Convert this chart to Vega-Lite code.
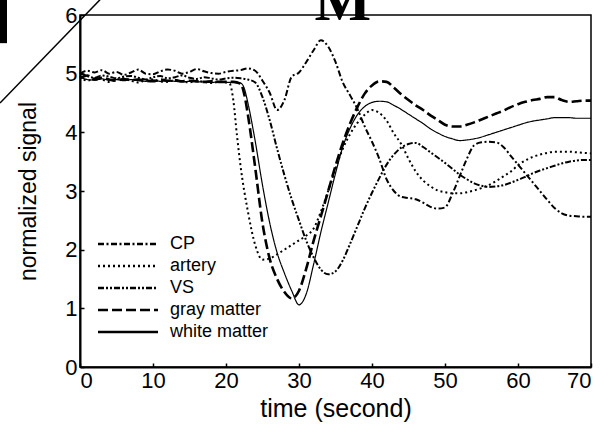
{
  "$schema": "https://vega.github.io/schema/vega-lite/v6.json",
  "width": 511,
  "height": 352,
  "autosize": "none",
  "padding": {"left": 80, "top": 15, "right": 14, "bottom": 63},
  "background": "white",
  "config": {
    "view": {"stroke": "black", "strokeWidth": 1.5},
    "font": "Liberation Sans",
    "axis": {
      "domainColor": "black", "domainWidth": 2, "tickColor": "black", "tickWidth": 1.5, "tickSize": -4,
      "grid": false, "labelColor": "black", "labelFont": "Liberation Sans", "labelFontSize": 22,
      "titleColor": "black", "titleFont": "Liberation Sans", "titleFontSize": 23, "titleFontWeight": "normal",
      "labelOverlap": false
    }
  },
  "layer": [
    {
      "data": {"values": [
        {"t": 0, "CP": 5.0, "artery": 4.96, "VS": 5.02, "gray matter": 4.92, "white matter": 4.94},
        {"t": 1, "CP": 5.05, "artery": 4.88, "VS": 4.96, "gray matter": 4.97, "white matter": 4.9},
        {"t": 2, "CP": 5.02, "artery": 4.92, "VS": 4.93, "gray matter": 4.9, "white matter": 4.89},
        {"t": 3, "CP": 5.06, "artery": 4.9, "VS": 4.97, "gray matter": 4.93, "white matter": 4.91},
        {"t": 4, "CP": 5.0, "artery": 4.86, "VS": 4.95, "gray matter": 4.9, "white matter": 4.89},
        {"t": 5, "CP": 5.03, "artery": 4.9, "VS": 4.92, "gray matter": 4.88, "white matter": 4.9},
        {"t": 6, "CP": 4.98, "artery": 4.92, "VS": 4.95, "gray matter": 4.91, "white matter": 4.88},
        {"t": 7, "CP": 5.02, "artery": 4.88, "VS": 4.96, "gray matter": 4.89, "white matter": 4.9},
        {"t": 8, "CP": 5.07, "artery": 4.85, "VS": 4.93, "gray matter": 4.9, "white matter": 4.88},
        {"t": 9, "CP": 5.0, "artery": 4.89, "VS": 4.9, "gray matter": 4.88, "white matter": 4.87},
        {"t": 10, "CP": 4.99, "artery": 4.9, "VS": 4.94, "gray matter": 4.87, "white matter": 4.89},
        {"t": 11, "CP": 5.04, "artery": 4.87, "VS": 4.96, "gray matter": 4.9, "white matter": 4.87},
        {"t": 12, "CP": 5.07, "artery": 4.86, "VS": 4.92, "gray matter": 4.88, "white matter": 4.88},
        {"t": 13, "CP": 5.05, "artery": 4.89, "VS": 4.94, "gray matter": 4.89, "white matter": 4.87},
        {"t": 14, "CP": 5.0, "artery": 4.87, "VS": 4.97, "gray matter": 4.87, "white matter": 4.86},
        {"t": 15, "CP": 5.03, "artery": 4.85, "VS": 4.93, "gray matter": 4.88, "white matter": 4.87},
        {"t": 16, "CP": 5.08, "artery": 4.88, "VS": 4.91, "gray matter": 4.87, "white matter": 4.86},
        {"t": 17, "CP": 5.04, "artery": 4.86, "VS": 4.94, "gray matter": 4.86, "white matter": 4.86},
        {"t": 18, "CP": 5.01, "artery": 4.84, "VS": 4.92, "gray matter": 4.87, "white matter": 4.85},
        {"t": 19, "CP": 5.0, "artery": 4.86, "VS": 4.9, "gray matter": 4.86, "white matter": 4.86},
        {"t": 20, "CP": 5.03, "artery": 4.85, "VS": 4.92, "gray matter": 4.86, "white matter": 4.85},
        {"t": 20.5, "artery": 4.83},
        {"t": 21, "CP": 5.05, "artery": 4.55, "VS": 4.93, "gray matter": 4.86, "white matter": 4.85},
        {"t": 21.5, "artery": 3.95},
        {"t": 22, "CP": 5.06, "artery": 3.42, "VS": 4.92, "gray matter": 4.83, "white matter": 4.84},
        {"t": 22.5, "gray matter": 4.65, "white matter": 4.75},
        {"t": 23, "CP": 5.09, "artery": 2.65, "VS": 4.9, "gray matter": 4.3, "white matter": 4.5},
        {"t": 24, "CP": 5.05, "artery": 2.08, "VS": 4.85, "gray matter": 3.4, "white matter": 3.85},
        {"t": 25, "CP": 4.88, "artery": 1.83, "VS": 4.6, "gray matter": 2.45, "white matter": 3.1},
        {"t": 26, "CP": 4.67, "artery": 1.85, "VS": 4.2, "gray matter": 1.84, "white matter": 2.45},
        {"t": 27, "CP": 4.38, "artery": 1.92, "VS": 3.72, "gray matter": 1.5, "white matter": 1.95},
        {"t": 28, "CP": 4.55, "artery": 2.0, "VS": 3.27, "gray matter": 1.28, "white matter": 1.6},
        {"t": 29, "CP": 4.95, "artery": 2.08, "VS": 2.86, "gray matter": 1.17, "white matter": 1.3},
        {"t": 30, "CP": 5.02, "artery": 2.16, "VS": 2.5, "gray matter": 1.3, "white matter": 1.06},
        {"t": 31, "CP": 5.2, "artery": 2.24, "VS": 2.15, "gray matter": 1.68, "white matter": 1.25},
        {"t": 32, "CP": 5.4, "artery": 2.36, "VS": 1.87, "gray matter": 2.15, "white matter": 1.75},
        {"t": 33, "CP": 5.57, "artery": 2.65, "VS": 1.66, "gray matter": 2.57, "white matter": 2.3},
        {"t": 34, "CP": 5.46, "artery": 3.0, "VS": 1.58, "gray matter": 3.0, "white matter": 2.8},
        {"t": 35, "CP": 5.2, "artery": 3.38, "VS": 1.63, "gray matter": 3.43, "white matter": 3.3},
        {"t": 36, "CP": 4.85, "artery": 3.72, "VS": 1.82, "gray matter": 3.82, "white matter": 3.75},
        {"t": 37, "CP": 4.63, "artery": 3.97, "VS": 2.1, "gray matter": 4.15, "white matter": 4.07},
        {"t": 38, "CP": 4.4, "artery": 4.16, "VS": 2.4, "gray matter": 4.43, "white matter": 4.3},
        {"t": 39, "CP": 4.1, "artery": 4.3, "VS": 2.7, "gray matter": 4.66, "white matter": 4.44},
        {"t": 40, "CP": 3.84, "artery": 4.38, "VS": 2.97, "gray matter": 4.8, "white matter": 4.51},
        {"t": 41, "CP": 3.55, "artery": 4.33, "VS": 3.22, "gray matter": 4.87, "white matter": 4.53},
        {"t": 42, "CP": 3.2, "artery": 4.2, "VS": 3.45, "gray matter": 4.86, "white matter": 4.52},
        {"t": 43, "CP": 3.0, "artery": 3.98, "VS": 3.62, "gray matter": 4.76, "white matter": 4.46},
        {"t": 44, "CP": 2.9, "artery": 3.8, "VS": 3.74, "gray matter": 4.65, "white matter": 4.39},
        {"t": 45, "CP": 2.88, "artery": 3.55, "VS": 3.8, "gray matter": 4.55, "white matter": 4.31},
        {"t": 46, "CP": 2.86, "artery": 3.33, "VS": 3.82, "gray matter": 4.46, "white matter": 4.23},
        {"t": 47, "CP": 2.8, "artery": 3.18, "VS": 3.75, "gray matter": 4.38, "white matter": 4.15},
        {"t": 48, "CP": 2.73, "artery": 3.08, "VS": 3.66, "gray matter": 4.29, "white matter": 4.06},
        {"t": 49, "CP": 2.7, "artery": 3.01, "VS": 3.57, "gray matter": 4.21, "white matter": 3.99},
        {"t": 50, "CP": 2.72, "artery": 2.98, "VS": 3.48, "gray matter": 4.13, "white matter": 3.93},
        {"t": 51, "CP": 2.95, "artery": 2.96, "VS": 3.38, "gray matter": 4.1, "white matter": 3.89},
        {"t": 52, "CP": 3.25, "artery": 2.96, "VS": 3.28, "gray matter": 4.1, "white matter": 3.86},
        {"t": 53, "CP": 3.55, "artery": 2.98, "VS": 3.2, "gray matter": 4.13, "white matter": 3.87},
        {"t": 54, "CP": 3.78, "artery": 3.01, "VS": 3.13, "gray matter": 4.17, "white matter": 3.89},
        {"t": 55, "CP": 3.83, "artery": 3.05, "VS": 3.09, "gray matter": 4.22, "white matter": 3.92},
        {"t": 56, "CP": 3.84, "artery": 3.1, "VS": 3.07, "gray matter": 4.27, "white matter": 3.96},
        {"t": 57, "CP": 3.83, "artery": 3.17, "VS": 3.08, "gray matter": 4.32, "white matter": 4.0},
        {"t": 58, "CP": 3.75, "artery": 3.25, "VS": 3.1, "gray matter": 4.37, "white matter": 4.04},
        {"t": 59, "CP": 3.6, "artery": 3.33, "VS": 3.14, "gray matter": 4.43, "white matter": 4.08},
        {"t": 60, "CP": 3.45, "artery": 3.44, "VS": 3.19, "gray matter": 4.48, "white matter": 4.12},
        {"t": 61, "CP": 3.3, "artery": 3.52, "VS": 3.24, "gray matter": 4.52, "white matter": 4.16},
        {"t": 62, "CP": 3.15, "artery": 3.58, "VS": 3.3, "gray matter": 4.55, "white matter": 4.19},
        {"t": 63, "CP": 3.0, "artery": 3.62, "VS": 3.35, "gray matter": 4.57, "white matter": 4.21},
        {"t": 64, "CP": 2.85, "artery": 3.65, "VS": 3.39, "gray matter": 4.6, "white matter": 4.23},
        {"t": 65, "CP": 2.71, "artery": 3.67, "VS": 3.43, "gray matter": 4.6, "white matter": 4.25},
        {"t": 66, "CP": 2.62, "artery": 3.67, "VS": 3.47, "gray matter": 4.55, "white matter": 4.25},
        {"t": 67, "CP": 2.58, "artery": 3.67, "VS": 3.5, "gray matter": 4.52, "white matter": 4.25},
        {"t": 68, "CP": 2.57, "artery": 3.66, "VS": 3.52, "gray matter": 4.53, "white matter": 4.24},
        {"t": 69, "CP": 2.56, "artery": 3.65, "VS": 3.53, "gray matter": 4.54, "white matter": 4.24},
        {"t": 70, "CP": 2.56, "artery": 3.64, "VS": 3.53, "gray matter": 4.54, "white matter": 4.24}
      ]},
      "transform": [
        {"fold": ["CP", "artery", "VS", "gray matter", "white matter"], "as": ["series", "v"]},
        {"filter": "isValid(datum.v)"}
      ],
      "mark": {"type": "line", "interpolate": "monotone", "strokeCap": "butt", "color": "black"},
      "encoding": {
        "x": {"field": "t", "type": "quantitative", "scale": {"domain": [0, 70]},
              "axis": {"values": [0, 5, 10, 15, 20, 25, 30, 35, 40, 45, 50, 55, 60, 65, 70],
                       "labelExpr": "datum.value % 10 == 0 ? format(datum.value, 'd') : ''",
                       "title": "time (second)", "labelPadding": 7, "titlePadding": 5, "titleFontSize": 25}},
        "y": {"field": "v", "type": "quantitative", "scale": {"domain": [0, 6]},
              "axis": {"values": [0, 0.5, 1, 1.5, 2, 2.5, 3, 3.5, 4, 4.5, 5, 5.5, 6],
                       "labelExpr": "datum.value % 1 == 0 ? format(datum.value, 'd') : ''",
                       "title": "normalized signal", "labelPadding": 7, "titlePadding": 24}},
        "strokeDash": {"field": "series", "type": "nominal",
                       "scale": {"domain": ["CP", "artery", "VS", "gray matter", "white matter"],
                                 "range": [[6, 2.5, 2, 2.5], [2, 3], [6, 2, 2, 2, 2, 2], [10, 4], [1, 0]]},
                       "legend": {"orient": "none", "legendX": 39, "legendY": 220, "title": null,
                                  "symbolType": "M-4,0H4", "symbolSize": 225, "symbolStrokeWidth": 2.5,
                                  "symbolStrokeColor": "black", "labelFont": "Liberation Sans",
                                  "labelFontSize": 18, "labelColor": "black", "labelOffset": 33, "rowPadding": 4}},
        "strokeWidth": {"condition": [{"test": "datum.series == 'white matter'", "value": 1.2},
                                      {"test": "datum.series == 'gray matter'", "value": 2.6}],
                        "value": 2}
      }
    },
    {
      "data": {"values": [{"x1": -10.96, "y1": 4.5, "x2": 2.74, "y2": 6.26}]},
      "mark": {"type": "rule", "color": "black", "strokeWidth": 1.5},
      "encoding": {
        "x": {"field": "x1", "type": "quantitative", "scale": {"domain": [0, 70]}},
        "y": {"field": "y1", "type": "quantitative", "scale": {"domain": [0, 6]}},
        "x2": {"field": "x2"},
        "y2": {"field": "y2"}
      }
    },
    {
      "data": {"values": [{"x1": -10.96, "x2": -10.0, "y1": 5.52, "y2": 6.3}]},
      "mark": {"type": "rect", "color": "black"},
      "encoding": {
        "x": {"field": "x1", "type": "quantitative", "scale": {"domain": [0, 70]}},
        "x2": {"field": "x2"},
        "y": {"field": "y1", "type": "quantitative", "scale": {"domain": [0, 6]}},
        "y2": {"field": "y2"}
      }
    },
    {
      "data": {"values": [{"t": 36, "v": 5.92, "label": "M"}]},
      "mark": {"type": "text", "font": "Liberation Serif", "fontWeight": "bold", "fontSize": 60, "baseline": "alphabetic", "align": "center", "color": "black"},
      "encoding": {
        "x": {"field": "t", "type": "quantitative", "scale": {"domain": [0, 70]}},
        "y": {"field": "v", "type": "quantitative", "scale": {"domain": [0, 6]}},
        "text": {"field": "label"}
      }
    }
  ]
}
